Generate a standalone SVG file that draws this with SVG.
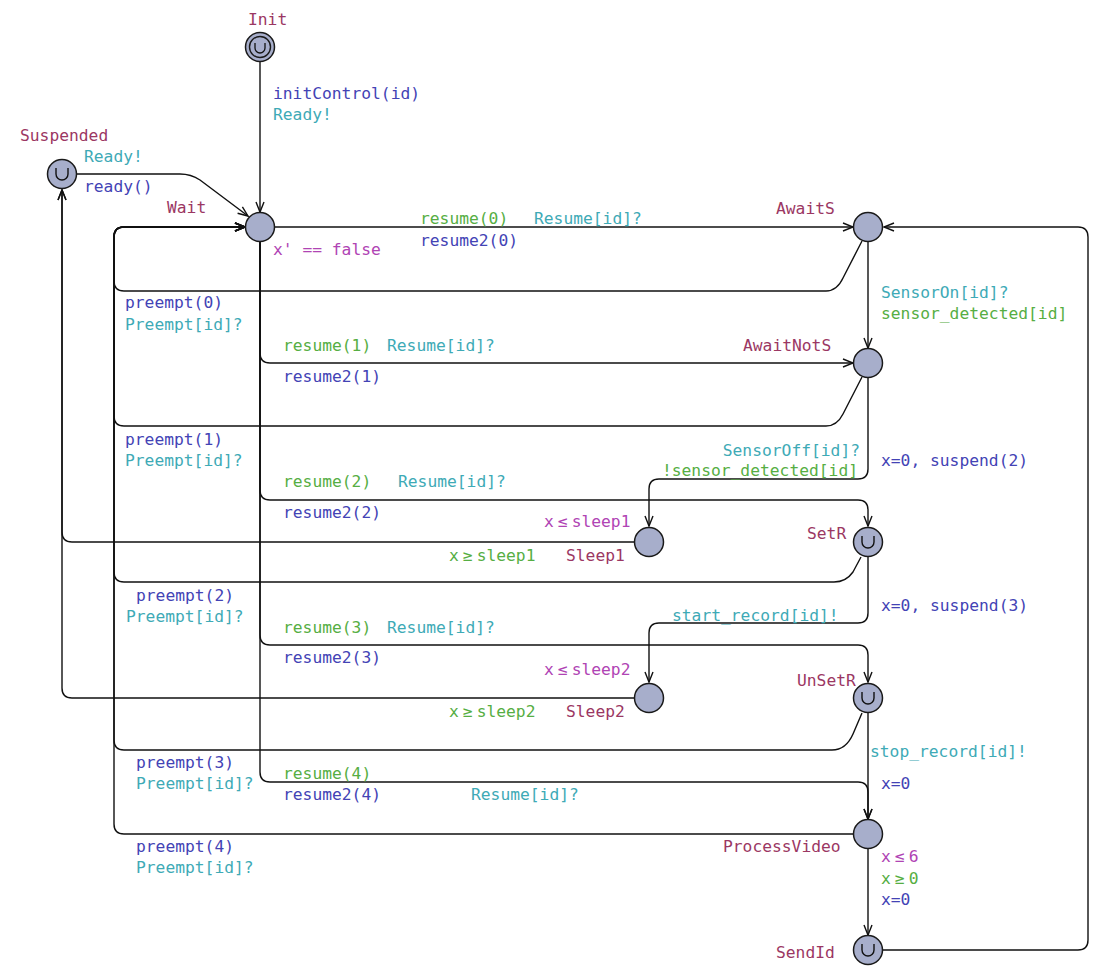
<svg xmlns="http://www.w3.org/2000/svg" width="1106" height="972" viewBox="0 0 1106 972">
<defs>
<marker id="arr" viewBox="-12 -6 14 12" refX="0" refY="0" markerWidth="14" markerHeight="12" markerUnits="userSpaceOnUse" orient="auto">
<path d="M -10 -4 L 0 0 L -10 4" fill="none" stroke="#111" stroke-width="1.4"/>
</marker>
<path id="u" d="M -6 -6 V 0 A 6 6 0 0 0 6 0 V -6" fill="none" stroke="#111" stroke-width="1.4"/>
</defs>
<style>
.n{fill:#a7aecb;stroke:#1a1a1a;stroke-width:1.5}
.e{fill:none;stroke:#111;stroke-width:1.4;marker-end:url(#arr)}
text{font-family:"DejaVu Sans Mono","Liberation Mono",monospace;font-size:16.3px}
.name{fill:#9b3763}
.sync{fill:#3eaab6}
.upd{fill:#4343b5}
.grd{fill:#56ae43}
.inv{fill:#b044b4}
</style>
<rect width="1106" height="972" fill="#ffffff"/>

<g id="connectors">
<g id="e-init-wait"><path class="e" d="M 260 62 V 212"/><text class="upd" x="273" y="99">initControl(id)</text><text class="sync" x="273" y="120">Ready!</text></g>
<g id="e-susp-wait"><path class="e" d="M 77 174 H 180 Q 191 174 200 180 L 248 216"/><text class="sync" x="84" y="162">Ready!</text><text class="upd" x="84" y="192">ready()</text></g>
<g id="e-wait-awaits"><path class="e" d="M 275 227 H 853"/><text class="grd" x="420" y="224">resume(0)</text><text class="sync" x="534" y="224">Resume[id]?</text><text class="upd" x="420" y="246">resume2(0)</text></g>
<g id="e-awaits-wait"><path class="e" d="M 862 241 L 843 278 Q 837 291 826 291 H 124 Q 114 291 114 281 V 237 Q 114 227 124 227 H 245"/><text class="upd" x="125" y="308">preempt(0)</text><text class="sync" x="125" y="330">Preempt[id]?</text></g>
<g id="e-awaits-awaitnots"><path class="e" d="M 868 242 V 348"/><text class="sync" x="881" y="298">SensorOn[id]?</text><text class="grd" x="881" y="319">sensor_detected[id]</text></g>
<g id="e-wait-awaitnots"><path class="e" d="M 260 242 V 353 Q 260 363 270 363 H 853"/><text class="grd" x="283" y="351">resume(1)</text><text class="sync" x="387" y="351">Resume[id]?</text><text class="upd" x="283" y="382">resume2(1)</text></g>
<g id="e-awaitnots-wait"><path class="e" d="M 862 377 L 843 414 Q 837 426 826 426 H 124 Q 114 426 114 416 V 237 Q 114 227 124 227 H 245"/><text class="upd" x="125" y="445">preempt(1)</text><text class="sync" x="125" y="466">Preempt[id]?</text></g>
<g id="e-awaitnots-sleep1"><path class="e" d="M 868 378 V 469 Q 868 479 858 479 H 659 Q 649 479 649 489 V 526"/><text class="sync" x="860" y="456" text-anchor="end">SensorOff[id]?</text><text class="grd" x="858" y="476" text-anchor="end">!sensor_detected[id]</text><text class="upd" x="881" y="466">x=0, suspend(2)</text></g>
<g id="e-wait-setr"><path class="e" d="M 260 242 V 490 Q 260 500 270 500 H 858 Q 868 500 868 510 V 526"/><text class="grd" x="283" y="487">resume(2)</text><text class="sync" x="398" y="487">Resume[id]?</text><text class="upd" x="283" y="518">resume2(2)</text></g>
<g id="e-sleep1-susp"><path class="e" d="M 634 542 H 72 Q 62 542 62 532 V 190"/><text class="grd" x="449" y="561">x<tspan dx="4">≥</tspan><tspan dx="4">sleep1</tspan></text></g>
<g id="e-setr-wait"><path class="e" d="M 861 557 L 853 572 Q 846 582 834 582 H 124 Q 114 582 114 572 V 237 Q 114 227 124 227 H 245"/><text class="upd" x="136" y="601">preempt(2)</text><text class="sync" x="126" y="622">Preempt[id]?</text></g>
<g id="e-setr-sleep2"><path class="e" d="M 868 557 V 613 Q 868 623 858 623 H 659 Q 649 623 649 633 V 682"/><text class="upd" x="881" y="611">x=0, suspend(3)</text><text class="sync" x="672" y="621">start_record[id]!</text></g>
<g id="e-wait-unsetr"><path class="e" d="M 260 242 V 635 Q 260 645 270 645 H 858 Q 868 645 868 655 V 682"/><text class="grd" x="283" y="633">resume(3)</text><text class="sync" x="387" y="633">Resume[id]?</text><text class="upd" x="283" y="663">resume2(3)</text></g>
<g id="e-sleep2-susp"><path class="e" d="M 634 698 H 72 Q 62 698 62 688 V 190"/><text class="grd" x="449" y="717">x<tspan dx="4">≥</tspan><tspan dx="4">sleep2</tspan></text></g>
<g id="e-unsetr-wait"><path class="e" d="M 862 713 L 853 734 Q 846 750 832 750 H 124 Q 114 750 114 740 V 237 Q 114 227 124 227 H 245"/><text class="upd" x="136" y="768">preempt(3)</text><text class="sync" x="136" y="789">Preempt[id]?</text></g>
<g id="e-unsetr-pv"><path class="e" d="M 868 713 V 819"/><text class="sync" x="870" y="757">stop_record[id]!</text><text class="upd" x="881" y="789">x=0</text></g>
<g id="e-wait-pv"><path class="e" d="M 260 242 V 772 Q 260 782 270 782 H 858 Q 868 782 868 792 V 819"/><text class="grd" x="283" y="779">resume(4)</text><text class="upd" x="283" y="800">resume2(4)</text><text class="sync" x="471" y="800">Resume[id]?</text></g>
<g id="e-pv-wait"><path class="e" d="M 853 834 H 124 Q 114 834 114 824 V 237 Q 114 227 124 227 H 245"/><text class="upd" x="136" y="852">preempt(4)</text><text class="sync" x="136" y="873">Preempt[id]?</text></g>
<g id="e-pv-sendid"><path class="e" d="M 868 849 V 935"/><text class="grd" x="881" y="884">x<tspan dx="4">≥</tspan><tspan dx="4">0</tspan></text><text class="upd" x="881" y="905">x=0</text></g>
<g id="e-sendid-awaits"><path class="e" d="M 883 950 H 1078 Q 1088 950 1088 940 V 237 Q 1088 227 1078 227 H 884"/></g>
</g>

<g id="node-init"><circle class="n" cx="260" cy="47" r="14.5"/><circle cx="260" cy="47" r="10.5" fill="none" stroke="#1a1a1a" stroke-width="1.4"/><path d="M -5 -5 V 0 A 5 5 0 0 0 5 0 V -5" transform="translate(260 48)" fill="none" stroke="#111" stroke-width="1.3"/><text class="name" x="248" y="25">Init</text></g>
<g id="node-suspended"><circle class="n" cx="62" cy="174" r="14.5"/><use href="#u" x="62" y="174"/><text class="name" x="20" y="141">Suspended</text></g>
<g id="node-wait"><circle class="n" cx="260" cy="227" r="14.5"/><text class="name" x="167" y="213">Wait</text><text class="inv" x="273" y="255">x' == false</text></g>
<g id="node-awaits"><circle class="n" cx="868" cy="227" r="14.5"/><text class="name" x="776" y="214">AwaitS</text></g>
<g id="node-awaitnots"><circle class="n" cx="868" cy="363" r="14.5"/><text class="name" x="743" y="351">AwaitNotS</text></g>
<g id="node-sleep1"><circle class="n" cx="649" cy="542" r="14.5"/><text class="name" x="566" y="561">Sleep1</text><text class="inv" x="544" y="527">x<tspan dx="4">≤</tspan><tspan dx="4">sleep1</tspan></text></g>
<g id="node-setr"><circle class="n" cx="868" cy="542" r="14.5"/><use href="#u" x="868" y="542"/><text class="name" x="807" y="539">SetR</text></g>
<g id="node-sleep2"><circle class="n" cx="649" cy="698" r="14.5"/><text class="name" x="566" y="717">Sleep2</text><text class="inv" x="544" y="675">x<tspan dx="4">≤</tspan><tspan dx="4">sleep2</tspan></text></g>
<g id="node-unsetr"><circle class="n" cx="868" cy="698" r="14.5"/><use href="#u" x="868" y="698"/><text class="name" x="797" y="686">UnSetR</text></g>
<g id="node-processvideo"><circle class="n" cx="868" cy="834" r="14.5"/><text class="name" x="723" y="852">ProcessVideo</text><text class="inv" x="881" y="862">x<tspan dx="4">≤</tspan><tspan dx="4">6</tspan></text></g>
<g id="node-sendid"><circle class="n" cx="868" cy="950" r="14.5"/><use href="#u" x="868" y="950"/><text class="name" x="776" y="958">SendId</text></g>
</svg>
